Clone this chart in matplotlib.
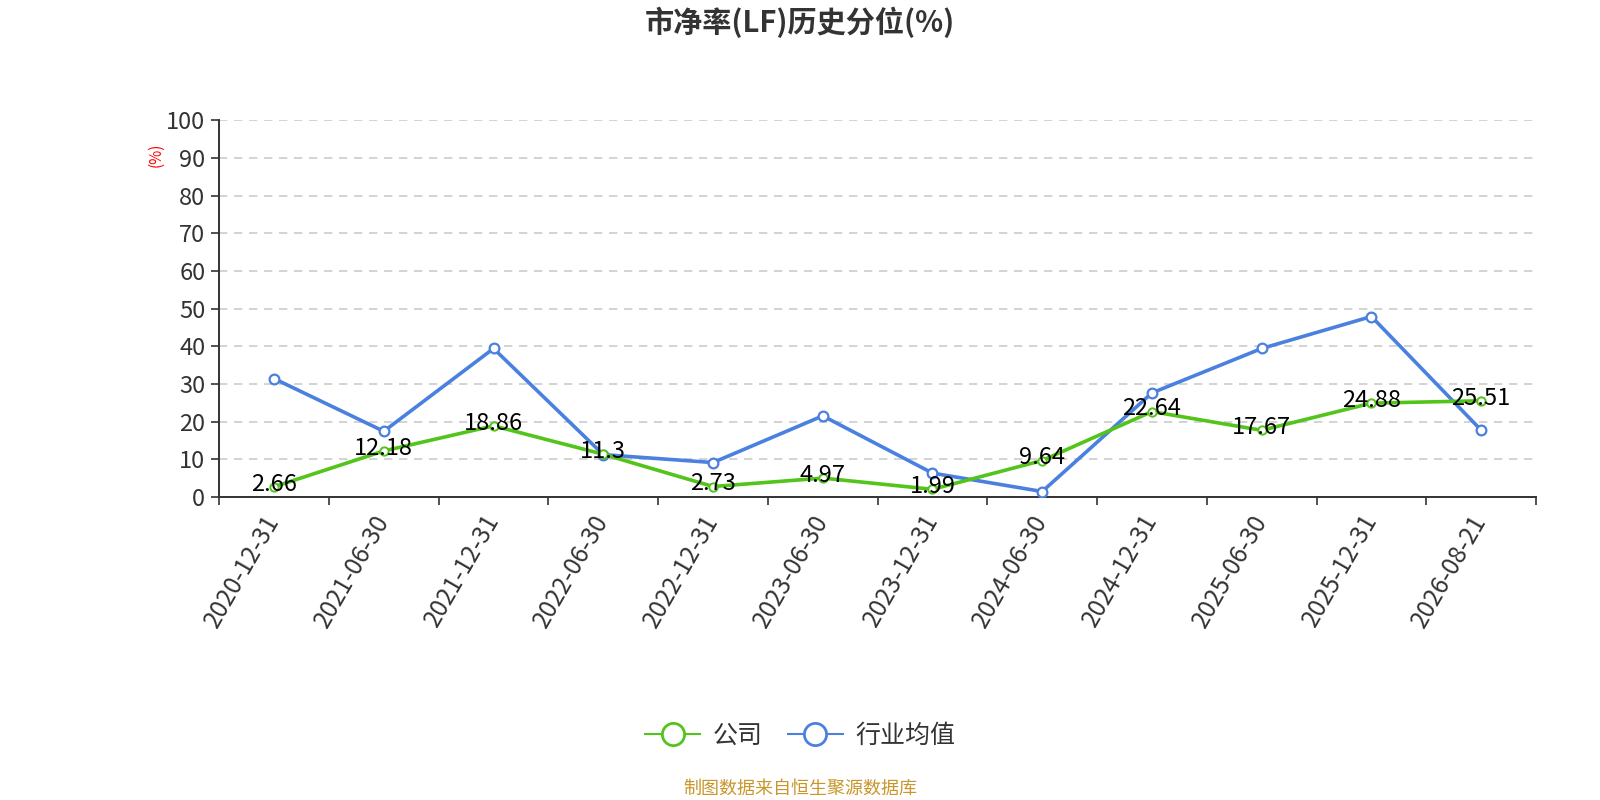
import matplotlib
matplotlib.use("Agg")
import matplotlib.pyplot as plt
from matplotlib.lines import Line2D

plt.rcParams['font.family'] = ['Noto Sans CJK SC', 'DejaVu Sans']

dates = ["2020-12-31", "2021-06-30", "2021-12-31", "2022-06-30", "2022-12-31", "2023-06-30",
         "2023-12-31", "2024-06-30", "2024-12-31", "2025-06-30", "2025-12-31", "2026-08-21"]
company = [2.66, 12.18, 18.86, 11.3, 2.73, 4.97, 1.99, 9.64, 22.64, 17.67, 24.88, 25.51]
industry = [31.4, 17.4, 39.4, 11.2, 9.1, 21.5, 6.3, 1.4, 27.6, 39.4, 47.9, 17.7]
yticks = [0, 10, 20, 30, 40, 50, 60, 70, 80, 90, 100]

green = '#52c41a'
blue = '#4a80e0'

fig = plt.figure(figsize=(16, 8), dpi=100)
ax = fig.add_axes([0.137, 0.379, 0.823, 0.4705])

x = list(range(len(dates)))
ax.plot(x, industry, color=blue, lw=2.6, marker='o', ms=7, mfc='white', mec=blue, mew=1.6, zorder=3)
ax.plot(x, company, color=green, lw=2.6, marker='o', ms=6, mfc='white', mec=green, mew=1.4, zorder=4)

for xi, v in zip(x, company):
    lab = ('%g' % v)
    ax.annotate(lab, (xi, v), xytext=(0, 2), textcoords='offset points', ha='center', va='center',
                fontsize=17, color='black', zorder=5)

ax.set_xlim(-0.5, len(dates) - 0.5)
ax.set_ylim(0, 100)
ax.set_yticks(yticks)
ax.set_yticklabels([str(t) for t in yticks], fontsize=17, color='#333333')
ax.set_xticks(x)
ax.set_xticklabels(dates, rotation=60, ha='right', va='center', rotation_mode='anchor',
                   fontsize=17.5, color='#333333')
ax.set_xticks([i - 0.5 for i in range(len(dates) + 1)], minor=True)
ax.tick_params(axis='x', which='major', length=0, pad=14)
ax.tick_params(axis='x', which='minor', length=6, width=1.2, color='#333333')
ax.tick_params(axis='y', length=6, width=1.2, color='#333333', pad=4)

ax.grid(axis='y', linestyle=(0, (5, 4)), color='#cccccc', lw=1.2)
ax.set_axisbelow(True)
for s in ['top', 'right']:
    ax.spines[s].set_visible(False)
for s in ['left', 'bottom']:
    ax.spines[s].set_color('#333333')
    ax.spines[s].set_linewidth(1.4)

fig.text(0.0975, 0.806, '(%)', color='red', fontsize=11, rotation=90, ha='center', va='center')
fig.text(0.5, 0.972, '市净率(LF)历史分位(%)', ha='center', va='center', fontsize=21, fontweight='bold', color='#333333')

handles = [Line2D([0], [0], color=green, lw=1.5, marker='o', ms=16, mfc='white', mec=green, mew=2),
           Line2D([0], [0], color=blue, lw=1.5, marker='o', ms=16, mfc='white', mec=blue, mew=2)]
fig.legend(handles, ['公司', '行业均值'], loc='center', bbox_to_anchor=(0.5, 0.08), ncol=2,
           frameon=False, fontsize=18, handlelength=2.2, columnspacing=1.0, handletextpad=0.5,
           labelcolor='#333333')

fig.text(0.5, 0.014, '制图数据来自恒生聚源数据库', ha='center', va='center', fontsize=13, color='#c8962a')

fig.savefig('out.png', dpi=100)
